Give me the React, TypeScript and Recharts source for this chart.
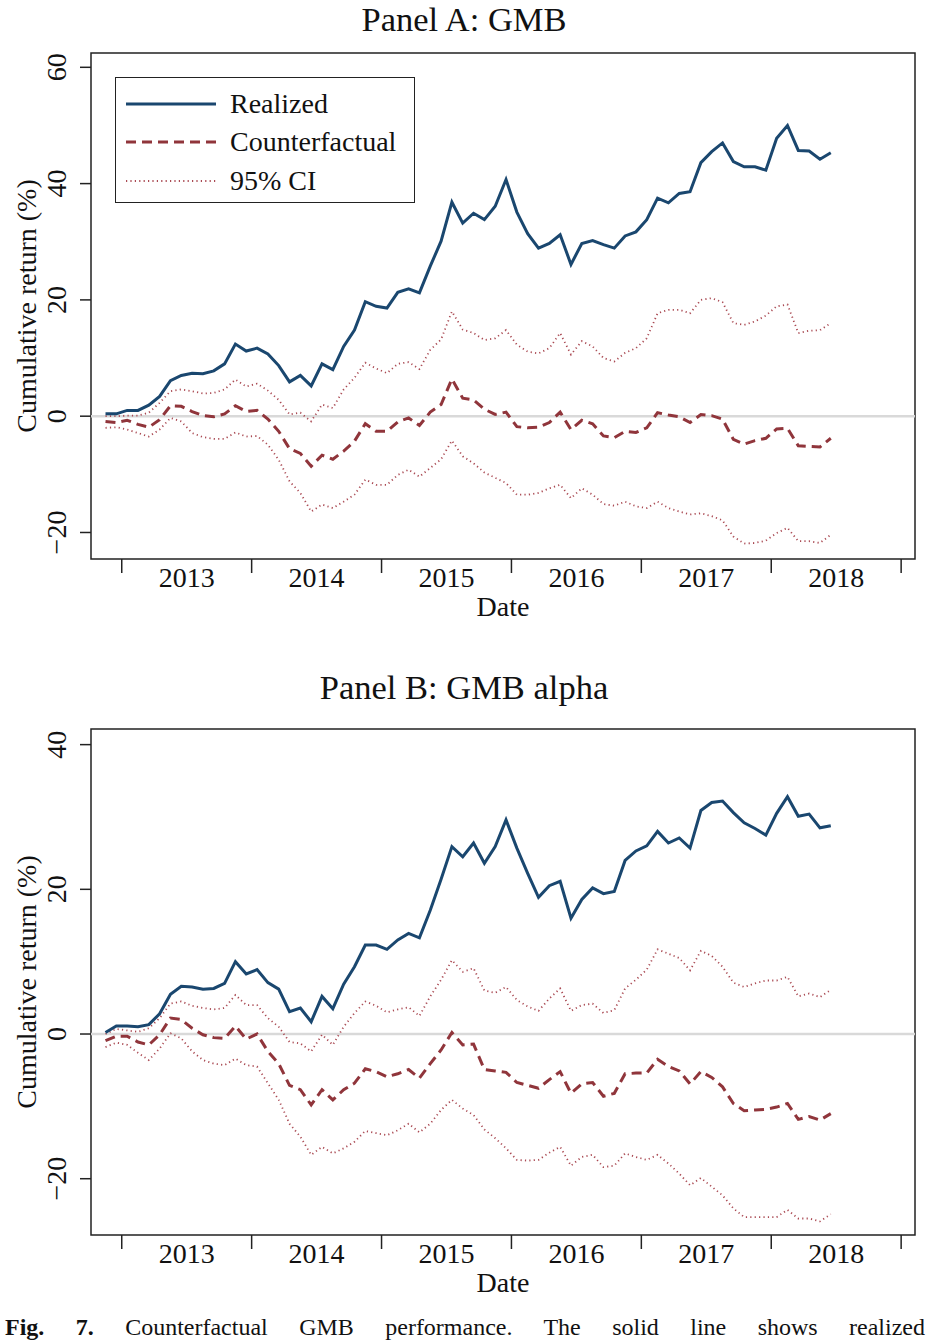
import React from 'react';
import { LineChart, Line, XAxis, YAxis, ReferenceLine, ReferenceArea } from 'recharts';

// monthly observations, Nov 2012 - Jun 2018
const MONTHS = [
  '2012-11', '2012-12',
  '2013-01', '2013-02', '2013-03', '2013-04', '2013-05', '2013-06', '2013-07', '2013-08', '2013-09', '2013-10', '2013-11', '2013-12',
  '2014-01', '2014-02', '2014-03', '2014-04', '2014-05', '2014-06', '2014-07', '2014-08', '2014-09', '2014-10', '2014-11', '2014-12',
  '2015-01', '2015-02', '2015-03', '2015-04', '2015-05', '2015-06', '2015-07', '2015-08', '2015-09', '2015-10', '2015-11', '2015-12',
  '2016-01', '2016-02', '2016-03', '2016-04', '2016-05', '2016-06', '2016-07', '2016-08', '2016-09', '2016-10', '2016-11', '2016-12',
  '2017-01', '2017-02', '2017-03', '2017-04', '2017-05', '2017-06', '2017-07', '2017-08', '2017-09', '2017-10', '2017-11', '2017-12',
  '2018-01', '2018-02', '2018-03', '2018-04', '2018-05', '2018-06',
];

// Panel A: GMB
const realizedA = [0.4, 0.4, 1.0, 1.0, 1.9, 3.4, 6.1, 7.0, 7.4, 7.3, 7.8, 9.0, 12.4, 11.2, 11.7, 10.7, 8.7, 5.9, 7.0, 5.2, 9.0, 8.0, 12.0, 14.8, 19.7, 18.9, 18.6, 21.3, 21.9, 21.2, 25.8, 30.1, 36.8, 33.2, 34.9, 33.8, 36.1, 40.7, 35.1, 31.4, 28.9, 29.7, 31.2, 26.1, 29.7, 30.2, 29.5, 28.9, 31.0, 31.7, 33.8, 37.5, 36.7, 38.3, 38.6, 43.6, 45.5, 47.0, 43.8, 42.9, 42.9, 42.3, 47.8, 50.0, 45.7, 45.6, 44.2, 45.3];
const counterA = [-0.9, -1.1, -0.7, -1.4, -1.9, -0.6, 1.8, 1.7, 0.8, 0.1, -0.1, 0.4, 1.8, 0.8, 1.0, -0.5, -2.6, -5.6, -6.4, -8.6, -6.7, -7.4, -6.0, -4.3, -1.3, -2.6, -2.6, -1.0, -0.3, -1.6, 0.7, 2.0, 6.4, 3.1, 2.8, 1.2, 0.3, 0.7, -1.8, -2.0, -1.9, -1.1, 0.7, -2.3, -0.7, -1.3, -3.4, -3.7, -2.6, -2.8, -2.0, 0.6, 0.2, -0.1, -1.1, 0.3, 0.1, -0.5, -4.0, -4.8, -4.2, -3.8, -2.2, -2.1, -5.1, -5.2, -5.3, -3.8];
const upperA = [0.0, 0.0, 0.1, 0.1, 0.6, 2.3, 4.3, 4.6, 4.3, 3.9, 4.0, 4.6, 6.3, 5.1, 5.6, 4.4, 2.8, 0.3, 0.6, -0.9, 2.0, 1.4, 4.6, 6.6, 9.2, 8.2, 7.4, 9.0, 9.3, 8.1, 11.4, 13.2, 18.0, 14.9, 14.3, 13.1, 13.4, 14.8, 12.3, 11.1, 10.8, 11.7, 14.3, 10.6, 12.9, 12.0, 10.0, 9.4, 10.9, 11.7, 13.4, 17.7, 18.3, 18.3, 17.7, 20.0, 20.3, 19.6, 16.0, 15.7, 16.3, 17.3, 18.9, 19.2, 14.3, 14.7, 14.8, 16.0];
const lowerA = [-2.0, -1.9, -2.3, -2.9, -3.5, -2.3, -0.3, -0.9, -2.9, -3.6, -3.9, -3.9, -2.8, -3.5, -3.4, -4.9, -7.5, -11.2, -13.2, -16.4, -15.2, -15.8, -14.7, -13.5, -10.9, -11.8, -11.8, -10.1, -9.2, -10.4, -8.9, -7.4, -4.2, -6.9, -8.1, -9.7, -10.6, -11.5, -13.5, -13.5, -13.2, -12.4, -11.8, -14.1, -12.4, -13.5, -15.1, -15.4, -14.7, -15.5, -15.8, -14.7, -15.8, -16.4, -16.9, -16.7, -17.2, -17.9, -20.7, -21.9, -21.8, -21.4, -20.1, -19.2, -21.5, -21.5, -21.8, -20.4];

// Panel B: GMB alpha
const realizedB = [0.2, 1.1, 1.1, 1.0, 1.3, 2.8, 5.5, 6.6, 6.5, 6.2, 6.3, 7.0, 10.0, 8.3, 8.9, 7.1, 6.2, 3.1, 3.6, 1.7, 5.2, 3.5, 6.9, 9.3, 12.3, 12.3, 11.7, 13.0, 13.9, 13.3, 17.1, 21.4, 25.9, 24.5, 26.4, 23.6, 25.9, 29.6, 25.7, 22.2, 18.9, 20.5, 21.1, 16.0, 18.6, 20.2, 19.4, 19.7, 24.0, 25.3, 26.0, 28.0, 26.4, 27.1, 25.7, 30.9, 32.0, 32.2, 30.6, 29.2, 28.4, 27.5, 30.5, 32.8, 30.1, 30.4, 28.5, 28.8];
const counterB = [-0.9, -0.3, -0.3, -1.1, -1.5, -0.1, 2.2, 2.0, 0.8, -0.1, -0.5, -0.6, 1.1, -0.7, 0.0, -2.4, -4.1, -7.1, -7.7, -9.8, -7.7, -9.1, -7.7, -6.8, -4.8, -5.2, -5.9, -5.5, -4.9, -6.1, -4.1, -2.2, 0.2, -1.5, -1.4, -4.9, -5.1, -5.3, -6.7, -7.1, -7.5, -6.3, -5.2, -8.2, -6.9, -6.7, -8.6, -8.2, -5.5, -5.4, -5.4, -3.5, -4.5, -5.1, -6.9, -5.2, -6.0, -7.3, -9.6, -10.6, -10.5, -10.4, -10.1, -9.6, -11.8, -11.4, -11.9, -11.0];
const upperB = [0.0, 0.7, 0.5, 0.3, 0.8, 2.2, 4.2, 4.5, 3.9, 3.6, 3.4, 3.6, 5.4, 4.0, 4.0, 2.2, 1.0, -1.1, -1.3, -2.4, -0.1, -1.5, 1.0, 2.9, 4.5, 3.9, 3.0, 3.4, 3.7, 2.5, 5.2, 7.5, 10.2, 8.6, 9.1, 6.0, 5.7, 6.5, 4.7, 3.8, 3.2, 4.9, 6.3, 3.2, 4.0, 4.2, 2.9, 3.3, 6.3, 7.5, 8.9, 11.7, 11.1, 10.5, 8.8, 11.5, 10.8, 9.3, 7.1, 6.5, 7.0, 7.4, 7.4, 7.9, 5.2, 5.6, 5.1, 6.1];
const lowerB = [-1.8, -1.2, -1.5, -2.6, -3.6, -2.0, 0.1, -0.6, -2.4, -3.6, -4.1, -4.3, -3.4, -4.3, -4.5, -6.8, -9.1, -12.4, -14.2, -16.7, -15.6, -16.5, -15.8, -14.9, -13.4, -13.7, -14.0, -13.3, -12.4, -13.6, -12.4, -10.5, -9.1, -10.3, -11.2, -13.2, -14.4, -15.8, -17.4, -17.5, -17.4, -16.4, -15.6, -18.2, -17.0, -16.7, -18.4, -18.2, -16.5, -17.0, -17.4, -16.7, -17.9, -19.3, -20.9, -19.9, -21.1, -22.3, -24.1, -25.3, -25.3, -25.3, -25.3, -24.3, -25.5, -25.5, -25.9, -24.9];

const YEAR_LABELS = ['2013', '2014', '2015', '2016', '2017', '2018'];
const Y_TICKS_A = [-20, 0, 20, 40, 60];
const Y_TICKS_B = [-20, 0, 20, 40];

const NAVY = '#1a476f';
const MAROON = '#90353b';
const CI_COLOR = '#aa4a53';
const CI_WIDTH = 1.8;
const CI_DASH = '1.2 3.2';
const FONT = '"Liberation Serif", "Times New Roman", serif';

const W = 933;
const H = 625;
const PLOT_TOP = 53;
const PLOT_BOTTOM = 559;
const PLOT_LEFT = 91;
const PLOT_RIGHT = 915;
const X_DOMAIN: [number, number] = [-2.84, 73.28];

// months since Jan 2013, points sit mid-month
const toX = (m: string) => {
  const [y, mo] = m.split('-').map(Number);
  return (y - 2013) * 12 + (mo - 1) + 0.5;
};

const buildRows = (realized: number[], counter: number[], upper: number[], lower: number[]) =>
  MONTHS.map((m, i) => ({
    x: toX(m),
    realized: realized[i],
    counter: counter[i],
    upper: upper[i],
    lower: lower[i],
  }));

const dataA = buildRows(realizedA, counterA, upperA, lowerA);
const dataB = buildRows(realizedB, counterB, upperB, lowerB);

// year boundaries get a tick mark, mid-years get the label
const X_TICKS: number[] = [];
YEAR_LABELS.forEach((_, i) => {
  X_TICKS.push(i * 12, i * 12 + 6);
});
X_TICKS.push(YEAR_LABELS.length * 12);

const XTick = (props: any) => {
  const { x, payload } = props;
  const v = payload.value;
  if (v % 12 === 0) {
    return <line x1={x} x2={x} y1={PLOT_BOTTOM} y2={PLOT_BOTTOM + 14} stroke="#222" strokeWidth={1.5} />;
  }
  return (
    <text x={x} y={PLOT_BOTTOM + 28} textAnchor="middle" fontSize={28} fontFamily={FONT} fill="#111">
      {YEAR_LABELS[Math.floor(v / 12)]}
    </text>
  );
};

const YTick = (props: any) => {
  const { y, payload } = props;
  const v = payload.value;
  const label = v < 0 ? '\u2212' + Math.abs(v) : String(v);
  return (
    <g>
      <line x1={80} x2={PLOT_LEFT} y1={y} y2={y} stroke="#222" strokeWidth={1.5} />
      <text
        x={66}
        y={y}
        transform={`rotate(-90, 66, ${y})`}
        textAnchor="middle"
        fontSize={28}
        fontFamily={FONT}
        fill="#111"
      >
        {label}
      </text>
    </g>
  );
};

interface PanelProps {
  data: any[];
  yDomain: [number, number];
  yTicks: number[];
}

const Panel: React.FC<PanelProps> = ({ data, yDomain, yTicks }) => (
  <LineChart
    width={W}
    height={H}
    data={data}
    margin={{ top: PLOT_TOP, right: W - PLOT_RIGHT, bottom: 0, left: 0 }}
  >
    <XAxis
      dataKey="x"
      type="number"
      domain={X_DOMAIN}
      ticks={X_TICKS}
      interval={0}
      allowDataOverflow
      axisLine={false}
      tickLine={false}
      tick={<XTick />}
      height={H - PLOT_BOTTOM}
    />
    <YAxis
      type="number"
      domain={yDomain}
      ticks={yTicks}
      interval={0}
      allowDataOverflow
      axisLine={false}
      tickLine={false}
      tick={<YTick />}
      width={PLOT_LEFT}
    />
    <ReferenceLine y={0} stroke="#d9d9d9" strokeWidth={2.5} />
    <Line type="linear" dataKey="upper" stroke={CI_COLOR} strokeWidth={CI_WIDTH} strokeDasharray={CI_DASH} dot={false} isAnimationActive={false} />
    <Line type="linear" dataKey="lower" stroke={CI_COLOR} strokeWidth={CI_WIDTH} strokeDasharray={CI_DASH} dot={false} isAnimationActive={false} />
    <Line type="linear" dataKey="counter" stroke={MAROON} strokeWidth={3} strokeDasharray="10 6" dot={false} isAnimationActive={false} />
    <Line type="linear" dataKey="realized" stroke={NAVY} strokeWidth={3} dot={false} isAnimationActive={false} />
    <ReferenceArea
      x1={X_DOMAIN[0]}
      x2={X_DOMAIN[1]}
      y1={yDomain[0]}
      y2={yDomain[1]}
      fill="none"
      stroke="#222"
      strokeWidth={1.5}
      ifOverflow="visible"
    />
  </LineChart>
);

const textStyle: React.CSSProperties = {
  position: 'absolute',
  fontFamily: FONT,
  color: '#111',
  whiteSpace: 'nowrap',
  lineHeight: 1,
};

const YLabel = ({ cy }: { cy: number }) => (
  <div
    style={{
      ...textStyle,
      fontSize: 28,
      left: 27,
      top: cy,
      transform: 'translate(-50%, -50%) rotate(-90deg)',
    }}
  >
    Cumulative return (%)
  </div>
);

const LegendBox = () => {
  const rows = [
    { label: 'Realized', color: NAVY, width: 3, dash: undefined, cy: 26 },
    { label: 'Counterfactual', color: MAROON, width: 3, dash: '10 6', cy: 64 },
    { label: '95% CI', color: CI_COLOR, width: CI_WIDTH, dash: CI_DASH, cy: 103 },
  ];
  return (
    <div
      style={{
        position: 'absolute',
        left: 115,
        top: 77,
        width: 300,
        height: 126,
        border: '1.3px solid #222',
        background: '#fff',
        boxSizing: 'border-box',
      }}
    >
      {rows.map((r) => (
        <React.Fragment key={r.label}>
          <svg style={{ position: 'absolute', left: 9, top: r.cy - 5 }} width={92} height={10}>
            <line x1={1} x2={91} y1={5} y2={5} stroke={r.color} strokeWidth={r.width} strokeDasharray={r.dash} />
          </svg>
          <div style={{ ...textStyle, fontSize: 28, left: 114, top: r.cy, transform: 'translateY(-50%)' }}>
            {r.label}
          </div>
        </React.Fragment>
      ))}
    </div>
  );
};

const App: React.FC = () => (
  <div style={{ position: 'absolute', left: 0, top: 0, width: W, height: 1341, background: '#fff', overflow: 'hidden' }}>
    <div style={{ ...textStyle, fontSize: 34.5, left: 464, top: 19, transform: 'translate(-50%, -50%)' }}>Panel A: GMB</div>
    <div style={{ position: 'absolute', left: 0, top: 0 }}>
      <Panel data={dataA} yDomain={[-24.56, 62.46]} yTicks={Y_TICKS_A} />
    </div>
    <YLabel cy={306} />
    <div style={{ ...textStyle, fontSize: 28, left: 503, top: 607, transform: 'translate(-50%, -50%)' }}>Date</div>
    <LegendBox />

    <div style={{ ...textStyle, fontSize: 34.5, left: 464, top: 687, transform: 'translate(-50%, -50%)' }}>Panel B: GMB alpha</div>
    <div style={{ position: 'absolute', left: 0, top: 676 }}>
      <Panel data={dataB} yDomain={[-27.78, 42.16]} yTicks={Y_TICKS_B} />
    </div>
    <YLabel cy={982} />
    <div style={{ ...textStyle, fontSize: 28, left: 503, top: 1283, transform: 'translate(-50%, -50%)' }}>Date</div>

    <div
      style={{
        position: 'absolute',
        left: 5,
        top: 1315,
        width: 920,
        fontFamily: FONT,
        fontSize: 24,
        lineHeight: '24px',
        color: '#111',
        textAlign: 'justify',
        textAlignLast: 'justify',
        whiteSpace: 'nowrap',
      }}
    >
      <b>Fig. 7.</b> Counterfactual GMB performance. The solid line shows realized
    </div>
  </div>
);

export default App;
